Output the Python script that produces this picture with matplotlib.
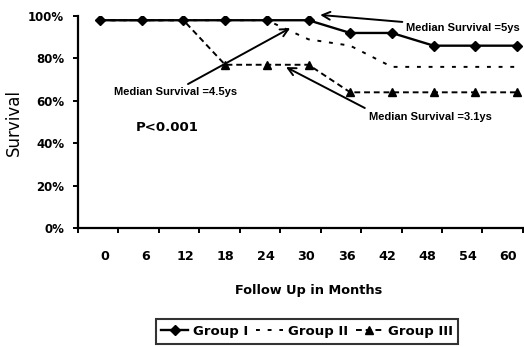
import matplotlib
matplotlib.use("Agg")
import matplotlib.pyplot as plt
import numpy as np

# ---- data ----
months = ["0", "6", "12", "18", "24", "30", "36", "42", "48", "54", "60"]
group1 = [98, 98, 98, 98, 98, 98, 92, 92, 86, 86, 86]
group2 = [98, 98, 98, 98, 98, 89, 86, 76, 76, 76, 76]
group3 = [98, 98, 98, 77, 77, 77, 64, 64, 64, 64, 64]
yticks = [0, 20, 40, 60, 80, 100]
ytick_labels = ["0%", "20%", "40%", "60%", "80%", "100%"]

W, H = 524, 347
fig = plt.figure(figsize=(W / 100, H / 100), dpi=100)
ax = fig.add_axes([78 / W, (H - 228) / H, 445 / W, 212 / H])

x = np.arange(len(months))
ax.plot(x, group1, color="black", lw=1.7, marker="D", markersize=5.2, label="Group I", zorder=4)
ax.plot(x, group2, color="black", lw=1.4, linestyle=(0, (2, 4)), label="Group II", zorder=3)
ax.plot(x, group3, color="black", lw=1.4, linestyle=(0, (3, 2)), marker="^", markersize=5.5,
        markevery=slice(3, None), label="Group III", zorder=3)

ax.set_xlim(-0.528, 10.144)
ax.set_ylim(0, 100)

# axes styling
for s in ["top", "right"]:
    ax.spines[s].set_visible(False)
for s in ["left", "bottom"]:
    ax.spines[s].set_linewidth(1.6)
    ax.spines[s].set_color("black")

ax.set_yticks(yticks)
ax.set_yticklabels(ytick_labels, fontsize=8.5, fontweight="bold", family="DejaVu Sans")
ax.tick_params(axis="y", direction="out", length=3.5, width=1.4, pad=6.5)

# x labels at categories, tick marks between categories
ax.set_xticks(0.12 + 0.966 * x)
ax.set_xticklabels(months, fontsize=9.2, fontweight="bold", family="DejaVu Sans")
ax.tick_params(axis="x", which="major", length=0, pad=15.5)
ax.set_xticks(-0.528 + 0.970 * np.arange(12), minor=True)
ax.tick_params(axis="x", which="minor", direction="out", length=3.5, width=1.4)

ax.set_ylabel("Survival", fontsize=12, family="DejaVu Sans", labelpad=4)
ax.set_xlabel("Follow Up in Months", fontsize=9.3, fontweight="bold", family="DejaVu Sans")
ax.xaxis.set_label_coords(0.519, -0.265)

# annotations
ann_font = dict(fontsize=8, fontweight="bold", family="Liberation Sans")
arrow = dict(arrowstyle="->", lw=1.4, color="black", shrinkA=0, shrinkB=0, mutation_scale=14)

ax.annotate("", xy=(5.28, 100.5), xytext=(7.25, 97.2), arrowprops=arrow, annotation_clip=False)
ax.text(7.33, 94.3, "Median Survival =5ys", ha="left", va="center", clip_on=False, **ann_font)

ax.annotate("", xy=(4.56, 94.3), xytext=(2.11, 67.9), arrowprops=arrow)
ax.text(1.80, 64.2, "Median Survival =4.5ys", ha="center", va="center", **ann_font)

ax.annotate("", xy=(4.46, 75.9), xytext=(6.35, 56.6), arrowprops=arrow)
ax.text(6.45, 52.4, "Median Survival =3.1ys", ha="left", va="center", **ann_font)

ax.text(1.61, 47.2, "P<0.001", ha="center", va="center", fontsize=9.5, fontweight="bold",
        family="DejaVu Sans")

# legend
leg = fig.legend(loc="center", bbox_to_anchor=(307 / W, 1 - 331.5 / H), ncol=3,
                 frameon=True, fancybox=False, handlelength=2.0, handletextpad=0.4,
                 columnspacing=0.6, borderpad=0.42, numpoints=1,
                 prop=dict(size=9.5, weight="bold", family="DejaVu Sans"))
leg.get_frame().set_edgecolor("black")
leg.get_frame().set_linewidth(1.5)

fig.savefig("out.png", dpi=100)
